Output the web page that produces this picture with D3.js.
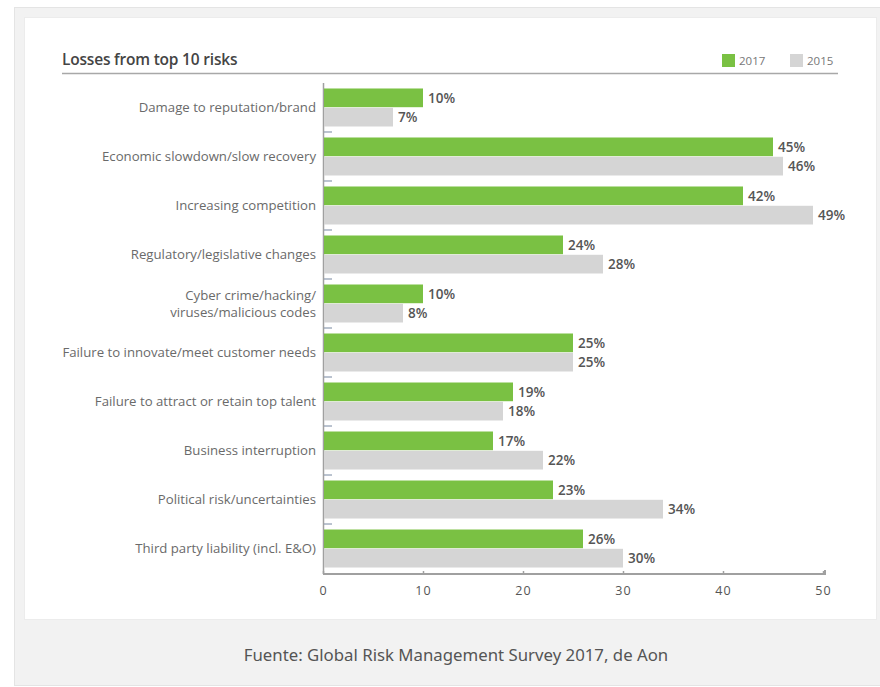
<!DOCTYPE html>
<html>
<head>
<meta charset="utf-8">
<script src="https://cdn.jsdelivr.net/npm/d3@7"></script>
<style>
  body { margin: 0; background: #fff; }
  svg { display: block; }
</style>
</head>
<body>
<script>
// Datos del gráfico
const categories = [
  "Damage to reputation/brand",
  "Economic slowdown/slow recovery",
  "Increasing competition",
  "Regulatory/legislative changes",
  "Cyber crime/hacking/\nviruses/malicious codes",
  "Failure to innovate/meet customer needs",
  "Failure to attract or retain top talent",
  "Business interruption",
  "Political risk/uncertainties",
  "Third party liability (incl. E&O)"
];
const series = ["2017", "2015"];
const values2017 = [10, 45, 42, 24, 10, 25, 19, 17, 23, 26];
const values2015 = [7, 46, 49, 28, 8, 25, 18, 22, 34, 30];
const xTicks = [0, 10, 20, 30, 40, 50];

const colors = { "2017": "#7ac143", "2015": "#d5d5d5" };
const width = 880, height = 687;

const svg = d3.select("body").append("svg")
  .attr("width", width)
  .attr("height", height);

// Marco gris y tarjeta blanca
svg.append("rect")
  .attr("x", 14.5).attr("y", 7.5)
  .attr("width", 880).attr("height", 678)
  .attr("fill", "#f2f2f2")
  .attr("stroke", "#e4e4e4");
svg.append("rect")
  .attr("x", 24.5).attr("y", 17.5)
  .attr("width", 852).attr("height", 602)
  .attr("fill", "#fff")
  .attr("stroke", "#ececec");

// Título y línea
svg.append("text")
  .attr("x", 62).attr("y", 65)
  .text("Losses from top 10 risks")
  .style("font-family", "'Open Sans', sans-serif")
  .style("font-weight", 600)
  .style("font-size", "15.5px")
  .style("letter-spacing", "-0.2px")
  .attr("fill", "#444");
svg.append("line")
  .attr("x1", 62).attr("x2", 838)
  .attr("y1", 73.5).attr("y2", 73.5)
  .attr("stroke", "#a8a8a8")
  .attr("stroke-width", 1.5);

// Leyenda
const legend = svg.append("g").attr("transform", "translate(722, 54)");
legend.selectAll("g")
  .data(series)
  .enter()
  .append("g")
  .attr("transform", (d, i) => `translate(${i * 68}, 0)`)
  .each(function (d) {
    const g = d3.select(this);
    g.append("rect").attr("width", 13).attr("height", 13).attr("fill", colors[d]);
    g.append("text")
      .attr("x", 17).attr("y", 11)
      .text(d)
      .style("font-family", "'Open Sans', sans-serif")
      .style("font-size", "11.5px")
      .attr("fill", "#777");
  });

// Escalas
const xScale = d3.scaleLinear().domain([0, 50]).range([323, 823]);
const yScale = d3.scaleBand()
  .domain(categories)
  .range([83, 573])
  .paddingInner(0.2245)
  .paddingOuter(0.112);
const ySub = d3.scaleBand()
  .domain(series)
  .range([0, yScale.bandwidth()])
  .paddingInner(0.03);

const rows = categories.map((c, i) => ({ cat: c, "2017": values2017[i], "2015": values2015[i] }));

// Eje Y (línea y marcas entre categorías)
svg.append("line")
  .attr("x1", 323.5).attr("x2", 323.5)
  .attr("y1", 83).attr("y2", 574)
  .attr("stroke", "#a0a0a0")
  .attr("stroke-width", 1.5);
svg.append("g")
  .selectAll("line")
  .data(categories.slice(1))
  .enter()
  .append("line")
  .attr("x1", 324).attr("x2", 332)
  .attr("y1", d => yScale(d) - yScale.step() * yScale.paddingInner() / 2)
  .attr("y2", d => yScale(d) - yScale.step() * yScale.paddingInner() / 2)
  .attr("stroke", "#8d9bb0")
  .attr("stroke-width", 1.2);

// Barras
const groups = svg.append("g")
  .selectAll("g")
  .data(rows)
  .enter()
  .append("g")
  .attr("transform", d => `translate(0, ${yScale(d.cat)})`);

groups.selectAll("rect")
  .data(d => series.map(s => ({ s, v: d[s] })))
  .enter()
  .append("rect")
  .attr("x", xScale(0) + 1)
  .attr("y", d => ySub(d.s))
  .attr("width", d => xScale(d.v) - xScale(0) - 1)
  .attr("height", ySub.bandwidth())
  .attr("fill", d => colors[d.s]);

groups.selectAll("text")
  .data(d => series.map(s => ({ s, v: d[s] })))
  .enter()
  .append("text")
  .attr("x", d => xScale(d.v) + 5)
  .attr("y", d => ySub(d.s) + ySub.bandwidth() / 2)
  .attr("dy", "0.36em")
  .text(d => d.v + "%")
  .style("font-family", "'Open Sans', sans-serif")
  .style("font-weight", 600)
  .style("font-size", "13.5px")
  .attr("fill", "#555");

// Etiquetas de categorías (una sola etiqueta por categoría, con salto de línea)
const catLabels = svg.append("g")
  .selectAll("text")
  .data(categories)
  .enter()
  .append("text")
  .attr("x", 316)
  .attr("y", d => yScale(d) + yScale.bandwidth() / 2)
  .attr("text-anchor", "end")
  .style("font-family", "'Open Sans', sans-serif")
  .style("font-size", "13.2px")
  .attr("fill", "#6a6a6a");
catLabels.each(function (d) {
  const lines = d.split("\n");
  const t = d3.select(this);
  lines.forEach((l, i) => {
    t.append("tspan")
      .attr("x", 316)
      .attr("dy", i === 0 ? (0.36 - (lines.length - 1) * 0.66) + "em" : "1.32em")
      .text(l);
  });
});

// Eje X
const xAxis = d3.axisBottom(xScale)
  .tickValues(xTicks)
  .tickSize(0)
  .tickPadding(12);
const gx = svg.append("g")
  .attr("transform", "translate(0, 574)")
  .call(xAxis);
gx.select(".domain")
  .attr("d", `M${xScale(0)},0H${xScale(50) + 2}V-4`)
  .attr("stroke", "#a0a0a0")
  .attr("stroke-width", 2);
gx.selectAll(".tick").append("line")
  .attr("y1", 0).attr("y2", -3)
  .attr("stroke", "#a0a0a0")
  .attr("stroke-width", 1.5);
gx.selectAll(".tick text")
  .style("font-family", "'Open Sans', sans-serif")
  .style("font-size", "12.5px")
  .style("letter-spacing", "1px")
  .attr("fill", "#555");

// Fuente
svg.append("text")
  .attr("x", 456).attr("y", 661)
  .attr("text-anchor", "middle")
  .text("Fuente: Global Risk Management Survey 2017, de Aon")
  .style("font-family", "'Noto Sans', sans-serif")
  .style("font-size", "16.8px")
  .attr("fill", "#555");
</script>
</body>
</html>
